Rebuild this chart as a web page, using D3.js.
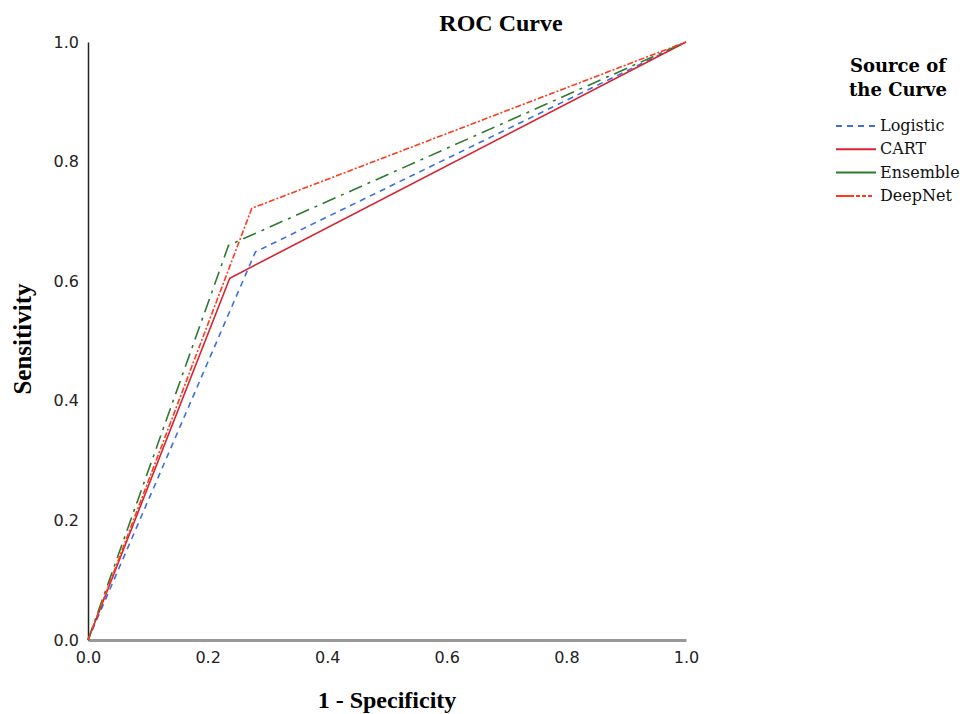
<!DOCTYPE html>
<html>
<head>
<meta charset="utf-8">
<script src="https://cdn.jsdelivr.net/npm/d3@7"></script>
<style>
  body { margin: 0; background: #fff; }
</style>
</head>
<body>
<script>
// chart data
const series = ["Logistic", "CART", "Ensemble", "DeepNet"];
const fpr = {
    Logistic: [0, 0.28, 1],
    CART: [0, 0.237, 1],
    Ensemble: [0, 0.235, 1],
    DeepNet: [0, 0.274, 1]
};
const tpr = {
    Logistic: [0, 0.649, 1],
    CART: [0, 0.605, 1],
    Ensemble: [0, 0.660, 1],
    DeepNet: [0, 0.722, 1]
};
const ticks = [0, 0.2, 0.4, 0.6, 0.8, 1.0];

const colors = {
    Logistic: "#3c6fe6",
    CART: "#d8232f",
    Ensemble: "#2e7a2e",
    DeepNet: "#ff3a1c"
};
const dashes = {
    Logistic: "6,5",
    CART: null,
    Ensemble: "14,6,3,6",
    DeepNet: "6,2,2,2"
};

const width = 972;
const height = 714;
const plotLeft = 88, plotRight = 686, plotTop = 42, plotBottom = 640;

const svg = d3.select("body")
    .append("svg")
    .attr("width", width)
    .attr("height", height);

const x = d3.scaleLinear().domain([0, 1]).range([plotLeft, plotRight]);
const y = d3.scaleLinear().domain([0, 1]).range([plotBottom, plotTop]);

// axes
const xAxis = d3.axisBottom(x).tickValues(ticks).tickFormat(d3.format(".1f")).tickSize(0).tickPadding(12);
const yAxis = d3.axisLeft(y).tickValues(ticks).tickFormat(d3.format(".1f")).tickSize(0).tickPadding(9);

const gx = svg.append("g").attr("transform", "translate(0," + plotBottom + ")").call(xAxis);
gx.select(".domain").attr("stroke", "#999").attr("stroke-width", 3);
const gy = svg.append("g").attr("transform", "translate(" + plotLeft + ",0)").call(yAxis);
gy.select(".domain").attr("stroke", "#222").attr("stroke-width", 1.5);
svg.selectAll(".tick text")
    .attr("font-family", "DejaVu Sans")
    .attr("font-size", 16)
    .attr("fill", "#222");

// curves
const line = d3.line().x(d => x(d[0])).y(d => y(d[1]));
series.forEach(s => {
    const pts = fpr[s].map((v, i) => [v, tpr[s][i]]);
    svg.append("path")
        .datum(pts)
        .attr("d", line)
        .attr("fill", "none")
        .attr("stroke", colors[s])
        .attr("stroke-width", 1.6)
        .attr("stroke-dasharray", dashes[s]);
});

// titles
svg.append("text")
    .attr("x", 501).attr("y", 31)
    .attr("text-anchor", "middle")
    .attr("font-family", "Liberation Serif")
    .attr("font-weight", "bold")
    .attr("font-size", 24)
    .text("ROC Curve");

svg.append("text")
    .attr("x", 387).attr("y", 708)
    .attr("text-anchor", "middle")
    .attr("font-family", "Liberation Serif")
    .attr("font-weight", "bold")
    .attr("font-size", 24)
    .text("1 - Specificity");

svg.append("text")
    .attr("transform", "translate(31,339) rotate(-90)")
    .attr("text-anchor", "middle")
    .attr("font-family", "Liberation Serif")
    .attr("font-weight", "bold")
    .attr("font-size", 25)
    .text("Sensitivity");

// legend
const lg = svg.append("g");
["Source of", "the Curve"].forEach((t, i) => {
    lg.append("text")
        .attr("x", 898).attr("y", 72 + i * 24)
        .attr("text-anchor", "middle")
        .attr("font-family", "DejaVu Serif")
        .attr("font-weight", "bold")
        .attr("font-size", 18)
        .text(t);
});
series.forEach((s, i) => {
    const yy = 126 + i * 23.3;
    lg.append("line")
        .attr("x1", 836).attr("x2", 876)
        .attr("y1", yy).attr("y2", yy)
        .attr("stroke", colors[s])
        .attr("stroke-width", 2)
        .attr("stroke-dasharray", s === "Ensemble" ? null : (s === "DeepNet" ? "18,2,4,2,4,2,4" : dashes[s]));
    lg.append("text")
        .attr("x", 880).attr("y", yy + 5)
        .attr("font-family", "DejaVu Serif")
        .attr("font-size", 16)
        .attr("fill", "#111")
        .text(s);
});
</script>
</body>
</html>
